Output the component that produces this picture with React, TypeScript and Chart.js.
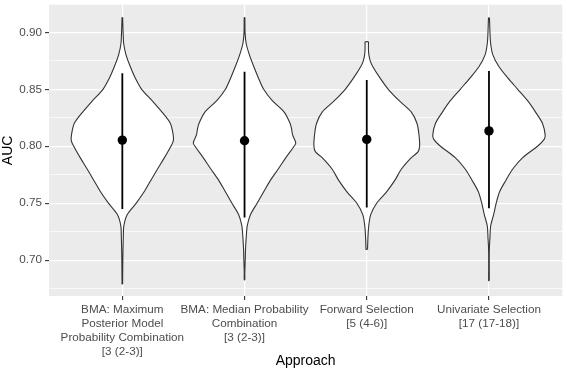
import { useEffect, useRef } from "react";
import { Chart, registerables } from "chart.js";

Chart.register(...registerables);

// ---------- data ----------
const categories = [1, 2, 3, 4];
const xTickLabels: string[][] = [
  ["BMA: Maximum", "Posterior Model", "Probability Combination", "[3 (2-3)]"],
  ["BMA: Median Probability", "Combination", "[3 (2-3)]"],
  ["Forward Selection", "[5 (4-6)]"],
  ["Univariate Selection", "[17 (17-18)]"],
];

const yMajorTicks = [0.7, 0.75, 0.8, 0.85, 0.9];
const yMinorTicks = [0.675, 0.725, 0.775, 0.825, 0.875];

// violin density profiles (AUC level, relative density)
const aucLevels1 = [0.679, 0.68, 0.69, 0.7, 0.71, 0.72, 0.73, 0.74, 0.75, 0.76, 0.77, 0.78, 0.79, 0.8, 0.805, 0.81, 0.82, 0.83, 0.84, 0.85, 0.86, 0.87, 0.88, 0.89, 0.9, 0.91, 0.913];
const density1 = [0.3, 0.3, 0.4, 0.5, 0.7, 1, 1.5, 5, 14, 22, 28.7, 35.5, 42.5, 49, 51.5, 51.3, 48.5, 40, 30, 19.5, 13, 8, 3.8, 1.4, 0.8, 0.4, 0.3];

const aucLevels2 = [0.6827, 0.69, 0.7, 0.71, 0.72, 0.73, 0.74, 0.75, 0.76, 0.77, 0.78, 0.79, 0.8, 0.803, 0.81, 0.815, 0.82, 0.83, 0.84, 0.85, 0.86, 0.87, 0.88, 0.89, 0.9, 0.913];
const density2 = [0.3, 0.3, 0.7, 1, 1.7, 2.7, 6, 12.7, 19.3, 26, 34, 41.7, 50, 51.7, 48.5, 47.5, 46, 40, 28, 19.3, 14, 9.3, 5, 1.7, 0.5, 0.3];

const aucLevels3 = [0.7095, 0.71, 0.72, 0.73, 0.74, 0.75, 0.76, 0.77, 0.78, 0.79, 0.795, 0.8, 0.81, 0.82, 0.83, 0.84, 0.85, 0.86, 0.87, 0.875, 0.88, 0.885, 0.89, 0.8915];
const density3 = [0.8, 0.8, 1.2, 2, 4, 10, 20, 28.3, 35, 45, 51.7, 53.3, 52.7, 50.7, 45, 32.7, 21.7, 13.3, 6, 3.5, 2.2, 1.7, 1.7, 1.7];

const aucLevels4 = [0.682, 0.69, 0.7, 0.71, 0.72, 0.73, 0.74, 0.75, 0.76, 0.77, 0.78, 0.79, 0.8, 0.806, 0.81, 0.82, 0.83, 0.84, 0.85, 0.86, 0.87, 0.88, 0.89, 0.9, 0.91, 0.9126];
const density4 = [0.3, 0.3, 0.3, 0.4, 1, 1.7, 4.7, 7.3, 10.7, 17, 24, 34, 49, 55.7, 56.7, 54, 47, 39, 29, 19, 10, 4, 1.7, 1, 0.6, 0.4];

const aucLevels = [aucLevels1, aucLevels2, aucLevels3, aucLevels4];
const densities = [density1, density2, density3, density4];

const rangeLow = [0.745, 0.7375, 0.7462, 0.7456];
const rangeHigh = [0.864, 0.8655, 0.8582, 0.866];
const medians = [0.8054, 0.8048, 0.806, 0.8135];

// ---------- helpers ----------
const DENSITY_SCALE = 1 / 123.3; // relative density -> category units
const Y_MIN = 0.6685;
const Y_MAX = 0.9243;

const isMajor = (v: number) => Math.abs(v * 20 - Math.round(v * 20)) < 1e-6;

function violinOutline(center: number, levels: number[], dens: number[]) {
  const right = levels.map((y, i) => ({ x: center + dens[i] * DENSITY_SCALE, y }));
  const left = levels.map((y, i) => ({ x: center - dens[i] * DENSITY_SCALE, y })).reverse();
  return [...right, ...left, right[0]];
}

const panelBackground = {
  id: "panelBackground",
  beforeDraw(chart: any) {
    const { ctx, chartArea: a } = chart;
    ctx.save();
    ctx.fillStyle = "#EBEBEB";
    ctx.fillRect(a.left, a.top, a.right - a.left, a.bottom - a.top);
    ctx.restore();
  },
};

export default function App() {
  const ref = useRef<HTMLCanvasElement>(null);

  useEffect(() => {
    document.body.style.margin = "0";
    const canvas = ref.current!;
    const font = "'Liberation Sans', Arial, Helvetica, sans-serif";

    const violinSets = categories.map((c, i) => ({
      type: "line" as const,
      data: violinOutline(c, aucLevels[i], densities[i]),
      borderColor: "#333333",
      borderWidth: 1.1,
      backgroundColor: "#FFFFFF",
      fill: "shape" as any,
      pointRadius: 0,
      tension: 0.3,
      order: 3,
    }));

    const rangeSets = categories.map((c, i) => ({
      type: "line" as const,
      data: [
        { x: c, y: rangeLow[i] },
        { x: c, y: rangeHigh[i] },
      ],
      borderColor: "#000000",
      borderWidth: 1.8,
      pointRadius: 0,
      fill: false,
      order: 2,
    }));

    const medianSet = {
      type: "scatter" as const,
      data: categories.map((c, i) => ({ x: c, y: medians[i] })),
      backgroundColor: "#000000",
      borderColor: "#000000",
      borderWidth: 0,
      pointRadius: 4.7,
      order: 1,
    };

    const chart = new Chart(canvas, {
      type: "line",
      data: { datasets: [...violinSets, ...rangeSets, medianSet] as any },
      options: {
        animation: false,
        responsive: false,
        devicePixelRatio: 1,
        layout: { padding: { top: 0, right: 0, bottom: 0, left: 0 } },
        plugins: {
          legend: { display: false },
          tooltip: { enabled: false },
        },
        scales: {
          x: {
            type: "linear",
            min: 0.4,
            max: 4.6,
            afterBuildTicks: (s: any) => {
              s.ticks = categories.map((v) => ({ value: v }));
            },
            afterFit: (s: any) => {
              s.height = 76;
              s.paddingLeft = 0;
              s.paddingRight = 0;
            },
            ticks: {
              autoSkip: false,
              maxRotation: 0,
              minRotation: 0,
              padding: 3,
              color: "#4D4D4D",
              font: { family: font, size: 11.7, lineHeight: 1.18 },
              callback: (v: any) => xTickLabels[Math.round(Number(v)) - 1] ?? "",
            },
            grid: {
              color: "#FFFFFF",
              lineWidth: 1.2,
              tickColor: "#333333",
              tickLength: 4,
              tickWidth: 1.1,
            },
            border: { display: false },
            title: {
              display: true,
              text: "Approach",
              color: "#000000",
              font: { family: font, size: 14, lineHeight: 1.2 },
              padding: { top: 0, bottom: 2.1 },
            },
          },
          y: {
            type: "linear",
            min: Y_MIN,
            max: Y_MAX,
            afterBuildTicks: (s: any) => {
              s.ticks = [...yMinorTicks, ...yMajorTicks]
                .sort((a, b) => a - b)
                .map((v) => ({ value: v }));
            },
            afterFit: (s: any) => {
              s.width = 49;
              s.paddingTop = 0;
              s.paddingBottom = 0;
            },
            ticks: {
              padding: 3,
              color: "#4D4D4D",
              font: { family: font, size: 11.7 },
              callback: (v: any) => (isMajor(Number(v)) ? Number(v).toFixed(2) : ""),
            },
            grid: {
              color: "#FFFFFF",
              lineWidth: (c: any) => (isMajor(c.tick.value) ? 1.2 : 0.7),
              tickColor: (c: any) => (isMajor(c.tick.value) ? "#333333" : "rgba(0,0,0,0)"),
              tickLength: 4,
              tickWidth: 1.1,
            },
            border: { display: false },
            title: {
              display: true,
              text: "AUC",
              color: "#000000",
              font: { family: font, size: 14, lineHeight: 1.1 },
              padding: { top: 0, bottom: 0 },
            },
          },
        },
      } as any,
      plugins: [panelBackground],
    });

    return () => chart.destroy();
  }, []);

  return (
    <canvas
      ref={ref}
      width={567}
      height={372}
      style={{ display: "block", width: 567, height: 372 }}
    />
  );
}
